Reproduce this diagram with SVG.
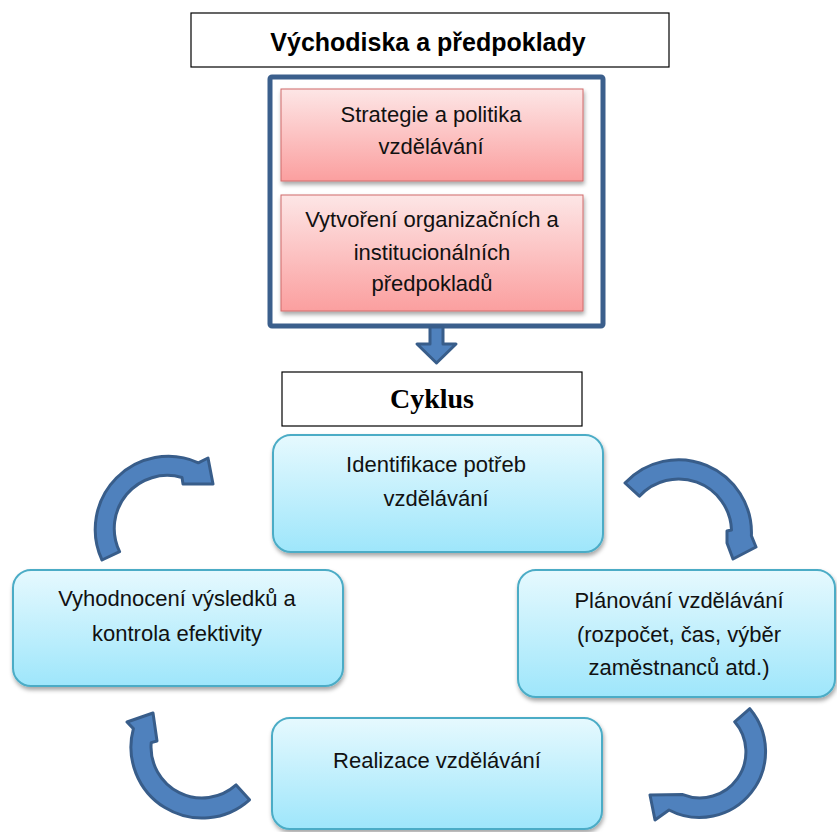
<svg xmlns="http://www.w3.org/2000/svg" width="837" height="832" viewBox="0 0 837 832">
  <defs>
    <linearGradient id="gradPink" x1="0" y1="0" x2="0" y2="1">
      <stop offset="0" stop-color="#fde6e6"/>
      <stop offset="1" stop-color="#fb9f9f"/>
    </linearGradient>
    <linearGradient id="gradCyan" x1="0" y1="0" x2="0" y2="1">
      <stop offset="0" stop-color="#e6f9fe"/>
      <stop offset="1" stop-color="#9ee6fb"/>
    </linearGradient>
    <filter id="shadow" x="-10%" y="-10%" width="120%" height="130%">
      <feDropShadow dx="1" dy="3" stdDeviation="2" flood-color="#000" flood-opacity="0.35"/>
    </filter>
  </defs>
  <style>
    .plain { fill: #ffffff; stroke: #000000; stroke-width: 1.2; }
    .frame { fill: #ffffff; stroke: #3b5f8c; stroke-width: 5; }
    .pink { fill: url(#gradPink); stroke: #d06a6a; stroke-width: 1; filter: url(#shadow); }
    .cyan { fill: url(#gradCyan); stroke: #4bacc6; stroke-width: 2; filter: url(#shadow); }
    .arrow { fill: #4f81bd; stroke: #385d8a; stroke-width: 3; stroke-linejoin: round; }
    .body { font-family: "Liberation Sans", Arial, sans-serif; font-size: 22px; fill: #111111; text-anchor: middle; }
    .title { font-family: "Liberation Sans", Arial, sans-serif; font-size: 25px; font-weight: bold; fill: #000000; text-anchor: middle; }
    .serif { font-family: "Liberation Serif", "Times New Roman", serif; font-size: 28px; font-weight: bold; fill: #000000; text-anchor: middle; }
  </style>

  <!-- Header -->
  <g id="vychodiska">
    <rect class="plain" x="191" y="13" width="478" height="54"/>
    <text class="title" x="428" y="51">Východiska a předpoklady</text>
  </g>

  <!-- Prerequisites frame -->
  <g id="predpoklady">
    <rect class="frame" x="270" y="77" width="333" height="249" rx="2"/>
  </g>
  <g id="strategie">
    <rect class="pink" x="281" y="89" width="302" height="92"/>
    <text class="body" x="431" y="122">Strategie a politika</text>
    <text class="body" x="431" y="154">vzdělávání</text>
  </g>
  <g id="vytvoreni">
    <rect class="pink" x="281" y="195" width="302" height="116"/>
    <text class="body" x="432" y="227">Vytvoření organizačních a</text>
    <text class="body" x="432" y="260">institucionálních</text>
    <text class="body" x="432" y="291">předpokladů</text>
  </g>

  <!-- Cycle header -->
  <g id="cyklus">
    <rect class="plain" x="282" y="372" width="300" height="54"/>
    <text class="serif" x="432" y="408">Cyklus</text>
  </g>

  <!-- Cycle steps -->
  <g id="identifikace">
    <rect class="cyan" x="273" y="435" width="330" height="117" rx="18"/>
    <text class="body" x="436" y="472">Identifikace potřeb</text>
    <text class="body" x="436" y="506">vzdělávání</text>
  </g>
  <g id="planovani">
    <rect class="cyan" x="518" y="570" width="317" height="127" rx="18"/>
    <text class="body" x="679" y="608">Plánování vzdělávání</text>
    <text class="body" x="679" y="642">(rozpočet, čas, výběr</text>
    <text class="body" x="679" y="675">zaměstnanců atd.)</text>
  </g>
  <g id="realizace">
    <rect class="cyan" x="272" y="718" width="330" height="111" rx="18"/>
    <text class="body" x="437" y="768">Realizace vzdělávání</text>
  </g>
  <g id="vyhodnoceni">
    <rect class="cyan" x="13" y="570" width="330" height="116" rx="18"/>
    <text class="body" x="177" y="606">Vyhodnocení výsledků a</text>
    <text class="body" x="177" y="641">kontrola efektivity</text>
  </g>

  <!-- Connectors -->
  <g id="connectors">
    <!-- block arrow from prerequisites into the cycle -->
    <polygon class="arrow" stroke-width="2" points="430,327 443,327 443,344 456,344 436.5,363 417,344 430,344"/>
    <!-- evaluation -> identification -->
    <path class="arrow" d="M102,560 A73,73 0 0 1 198.3,462.8 L208,458 L213,484 L183,484 L182,477.5 A53,53 0 0 0 119.6,551.6 Z"/>
    <!-- identification -> planning -->
    <path class="arrow" d="M625,483 A73,73 0 0 1 751.4,535.8 L756,547 L733,559 L727,543 L727,531 L731.5,530 A53,53 0 0 0 639.4,496.2 Z"/>
    <!-- planning -> realisation -->
    <path class="arrow" d="M749.8,708.7 A66,66 0 0 1 669,810 L655,820 L650,795 L682.8,794.6 A46,46 0 0 0 734.7,721.8 Z"/>
    <!-- realisation -> evaluation -->
    <path class="arrow" d="M249.5,799.8 A71,71 0 0 1 133.4,728.6 L127,722 L153,713 L157,741 L151.2,742.6 A51,51 0 0 0 236.1,784.9 Z"/>
  </g>
</svg>
